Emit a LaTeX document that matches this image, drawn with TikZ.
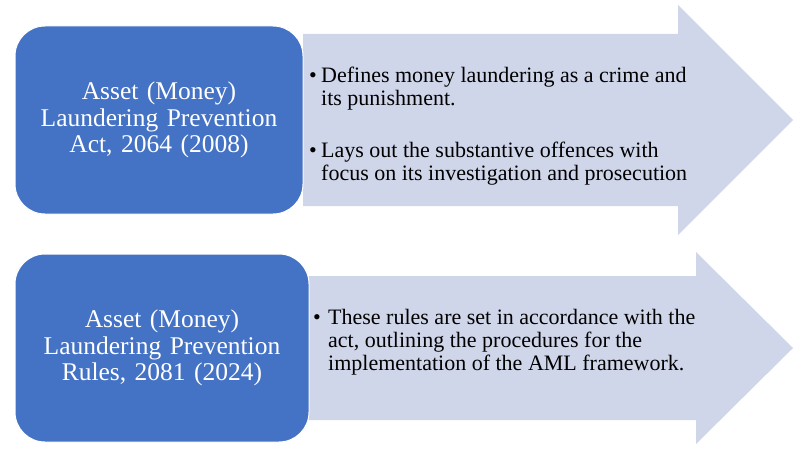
\documentclass[tikz,border=0pt]{standalone}
\usepackage{fontspec}
\setmainfont{Liberation Serif}
\usetikzlibrary{positioning}
\definecolor{lawblue}{HTML}{4472C4}
\definecolor{lawlilac}{HTML}{D0D6EA}

\tikzstyle{lawbox} = [rectangle, rounded corners=30pt, minimum height=188pt, text width=270pt, inner sep=0pt, align=center, fill=lawblue, draw=white, line width=1pt, text=white, font=\fontsize{25.5}{26.5}\selectfont]
\tikzstyle{points} = [anchor=north west, inner sep=0pt, align=left, font=\fontsize{22}{23}\selectfont]
\tikzstyle{bigarrow} = [fill=lawlilac]

\begin{document}
\begin{tikzpicture}[x=1pt,y=1pt]
	\useasboundingbox (0,0) rectangle (802,451);
	
	\fill [bigarrow] (303,417) -- (678,417) -- (678,446) -- (793,331) -- (678,216) -- (678,245) -- (303,245) -- cycle;
	\fill [bigarrow] (309,175) -- (696,175) -- (696,199) -- (793,103) -- (696,7) -- (696,31) -- (309,31) -- cycle;
	
	\node (act) [lawbox, minimum width=288pt] at (159,331) {Asset (Money)\\Laundering Prevention\\Act, 2064 (2008)};
	\node (rules) [lawbox, minimum width=294pt] at (162,103) {Asset (Money)\\Laundering Prevention\\Rules, 2081 (2024)};
	
	\node (actpt1) [points] at (309,384) {\makebox[12pt][l]{\textbullet}Defines money laundering as a crime and\\\hspace*{12pt}its punishment.};
	\node (actpt2) [points] at (309,309) {\makebox[12pt][l]{\textbullet}Lays out the substantive offences with\\\hspace*{12pt}focus on its investigation and prosecution};
	\node (rulespt) [points] at (313,142) {\makebox[15pt][l]{\textbullet}These rules are set in accordance with the\\\hspace*{15pt}act, outlining the procedures for the\\\hspace*{15pt}implementation of the AML framework.};
\end{tikzpicture}
\end{document}
